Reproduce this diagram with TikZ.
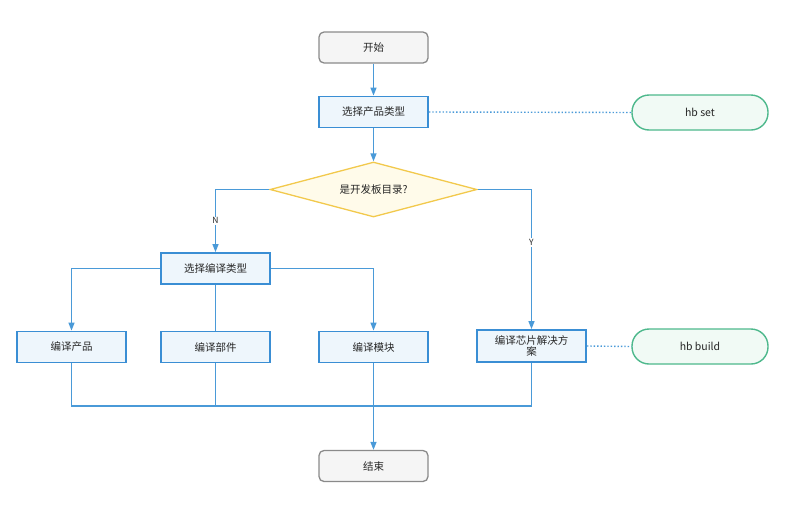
\documentclass[tikz,border=0pt]{standalone}
\usepackage{fontspec}
\setmainfont{Noto Sans CJK SC}
\usetikzlibrary{shapes.geometric,arrows.meta}
\definecolor{lineblue}{HTML}{4A9AD8}
\definecolor{boxblue}{HTML}{3A8ED4}
\definecolor{fillblue}{HTML}{EEF6FC}
\definecolor{graystroke}{HTML}{8A8A8A}
\definecolor{grayfill}{HTML}{F5F5F5}
\definecolor{ystroke}{HTML}{F2C94C}
\definecolor{yfill}{HTML}{FFFBEA}
\definecolor{gstroke}{HTML}{4DB88C}
\definecolor{gfill}{HTML}{F1FAF5}
\tikzset{
  every node/.style={font=\fontsize{10.5}{12}\selectfont, text=black!85},
  termbox/.style={draw=graystroke, fill=grayfill, line width=1.3pt, rounded corners=5pt, minimum width=109pt, minimum height=31pt},
  procbox/.style={draw=boxblue, fill=fillblue, line width=1.8pt, minimum width=109pt, minimum height=31pt, align=center, text width=100pt},
  decbox/.style={diamond, aspect=3.76, draw=ystroke, fill=yfill, line width=1.3pt, minimum width=207pt, minimum height=55pt, inner sep=0pt},
  cmdbox/.style={draw=gstroke, fill=gfill, line width=1.4pt, rounded corners=17pt, minimum width=136pt, minimum height=35pt},
  flow/.style={draw=lineblue, line width=1.4pt},
  flowarrow/.style={flow, -{Triangle[width=6pt,length=8pt]}},
  link/.style={draw=lineblue, line width=1.4pt, dotted},
  lbl/.style={font=\fontsize{8.5}{9}\selectfont, fill=white, inner sep=1pt}
}
\begin{document}
\begin{tikzpicture}[x=1pt,y=-1pt]
\useasboundingbox (0,0) rectangle (804,512);
\node[termbox] (start) at (373.5,47.5) {开始};
\node[procbox] (selprod) at (373.5,112) {\centering 选择产品类型};
\node[cmdbox] (hbset) at (700,112.5) {hb set};
\node[decbox] (dec) at (373.5,189.5) {是开发板目录?};
\node[procbox] (selcomp) at (215.5,268.5) {\centering 选择编译类型};
\node[procbox] (cprod) at (71.5,347) {\centering 编译产品};
\node[procbox] (cpart) at (215.5,347) {\centering 编译部件};
\node[procbox] (cmod) at (373.5,347) {\centering 编译模块};
\node[procbox, minimum height=32pt, font=\fontsize{10.5}{11}\selectfont] (cchip) at (531.5,346) {\centering 编译芯片解决方\\案};
\node[cmdbox] (hbbuild) at (700,346.5) {hb build};
\node[termbox] (end) at (373.5,466) {结束};
\coordinate (merge) at (373.5,406);

\draw[flowarrow] (start) -- (selprod);
\draw[flowarrow] (selprod) -- (dec);
\draw[flowarrow] (dec.west) -| node[lbl, pos=0.75] {N} (selcomp.north);
\draw[flowarrow] (dec.east) -| node[lbl, pos=0.69] {Y} (cchip.north);
\draw[flowarrow] (selcomp.west) -| (cprod.north);
\draw[flowarrow] (selcomp.east) -| (cmod.north);
\draw[flow] (selcomp.south) -- (cpart.north);
\draw[flow] (cprod.south) |- (merge);
\draw[flow] (cpart.south) |- (merge);
\draw[flow] (cchip.south) |- (merge);
\draw[flowarrow] (cmod.south) -- (end.north);
\draw[link] (selprod.east) -- (hbset.west);
\draw[link] (cchip.east) -- (hbbuild.west);
\end{tikzpicture}
\end{document}
